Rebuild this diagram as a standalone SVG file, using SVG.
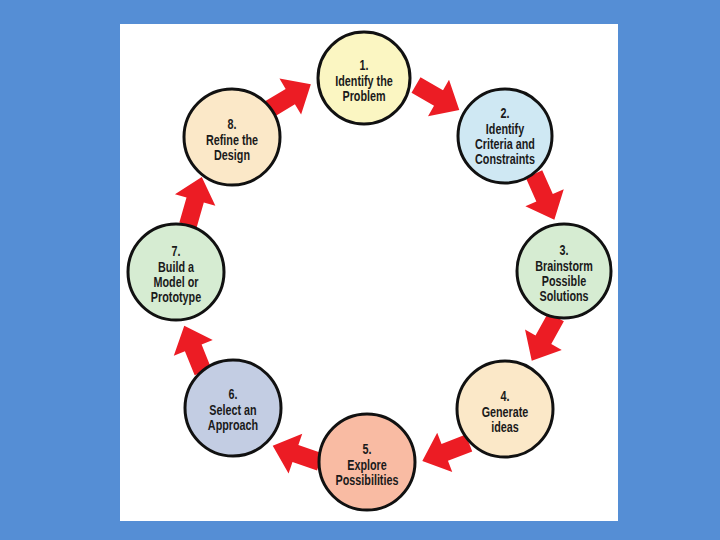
<svg xmlns="http://www.w3.org/2000/svg" width="720" height="540" viewBox="0 0 720 540">
  <style>
    .node circle { stroke: #111; stroke-width: 3; }
    .node text { font-family: "Liberation Sans", "Arial", sans-serif; font-weight: bold; font-size: 14px; fill: #1a1a1a; text-anchor: middle; }
    .arrow { fill: #ec1c24; }
  </style>
  <defs>
    <path id="arr" d="M0,-9 L26,-9 L26,-21 L50,0 L26,21 L26,9 L0,9 Z"/>
  </defs>
  <rect x="0" y="0" width="720" height="540" fill="#558ed5"/>
  <rect x="120" y="24" width="498" height="497" fill="#ffffff"/>

  <g id="connectors">
    <use href="#arr" class="arrow" transform="translate(416,85) rotate(30)"/>
    <use href="#arr" class="arrow" transform="translate(534,174) rotate(66)"/>
    <use href="#arr" class="arrow" transform="translate(556,317) rotate(119)"/>
    <use href="#arr" class="arrow" transform="translate(469,443) rotate(159)"/>
    <use href="#arr" class="arrow" transform="translate(320,462) rotate(199)"/>
    <use href="#arr" class="arrow" transform="translate(203,372) rotate(248)"/>
    <use href="#arr" class="arrow" transform="translate(188,225) rotate(286)"/>
    <use href="#arr" class="arrow" transform="translate(268,110) rotate(-31)"/>
  </g>

  <g id="node1" class="node">
    <circle cx="364" cy="78" r="46" fill="#fbf6c2"/>
    <g transform="translate(364,0) scale(0.77,1)">
      <text x="0" y="70">1.</text>
      <text x="0" y="86">Identify the</text>
      <text x="0" y="101">Problem</text>
    </g>
  </g>
  <g id="node2" class="node">
    <circle cx="505" cy="136" r="47" fill="#cfe8f3"/>
    <g transform="translate(505,0) scale(0.77,1)">
      <text x="0" y="118">2.</text>
      <text x="0" y="134">Identify</text>
      <text x="0" y="149">Criteria and</text>
      <text x="0" y="164">Constraints</text>
    </g>
  </g>
  <g id="node3" class="node">
    <circle cx="564" cy="271" r="47" fill="#d6ecd2"/>
    <g transform="translate(564,0) scale(0.77,1)">
      <text x="0" y="255">3.</text>
      <text x="0" y="271">Brainstorm</text>
      <text x="0" y="286">Possible</text>
      <text x="0" y="301">Solutions</text>
    </g>
  </g>
  <g id="node4" class="node">
    <circle cx="505" cy="409" r="48" fill="#fbe8c8"/>
    <g transform="translate(505,0) scale(0.77,1)">
      <text x="0" y="401">4.</text>
      <text x="0" y="417">Generate</text>
      <text x="0" y="432">ideas</text>
    </g>
  </g>
  <g id="node5" class="node">
    <circle cx="367" cy="462" r="48" fill="#f9bba3"/>
    <g transform="translate(367,0) scale(0.77,1)">
      <text x="0" y="454">5.</text>
      <text x="0" y="470">Explore</text>
      <text x="0" y="485">Possibilities</text>
    </g>
  </g>
  <g id="node6" class="node">
    <circle cx="233" cy="408" r="48" fill="#c3cde3"/>
    <g transform="translate(233,0) scale(0.77,1)">
      <text x="0" y="399">6.</text>
      <text x="0" y="415">Select an</text>
      <text x="0" y="430">Approach</text>
    </g>
  </g>
  <g id="node7" class="node">
    <circle cx="176" cy="272" r="48" fill="#d6ecd2"/>
    <g transform="translate(176,0) scale(0.77,1)">
      <text x="0" y="256">7.</text>
      <text x="0" y="272">Build a</text>
      <text x="0" y="287">Model or</text>
      <text x="0" y="302">Prototype</text>
    </g>
  </g>
  <g id="node8" class="node">
    <circle cx="232" cy="137" r="48" fill="#fbe8c8"/>
    <g transform="translate(232,0) scale(0.77,1)">
      <text x="0" y="129">8.</text>
      <text x="0" y="145">Refine the</text>
      <text x="0" y="160">Design</text>
    </g>
  </g>
</svg>
